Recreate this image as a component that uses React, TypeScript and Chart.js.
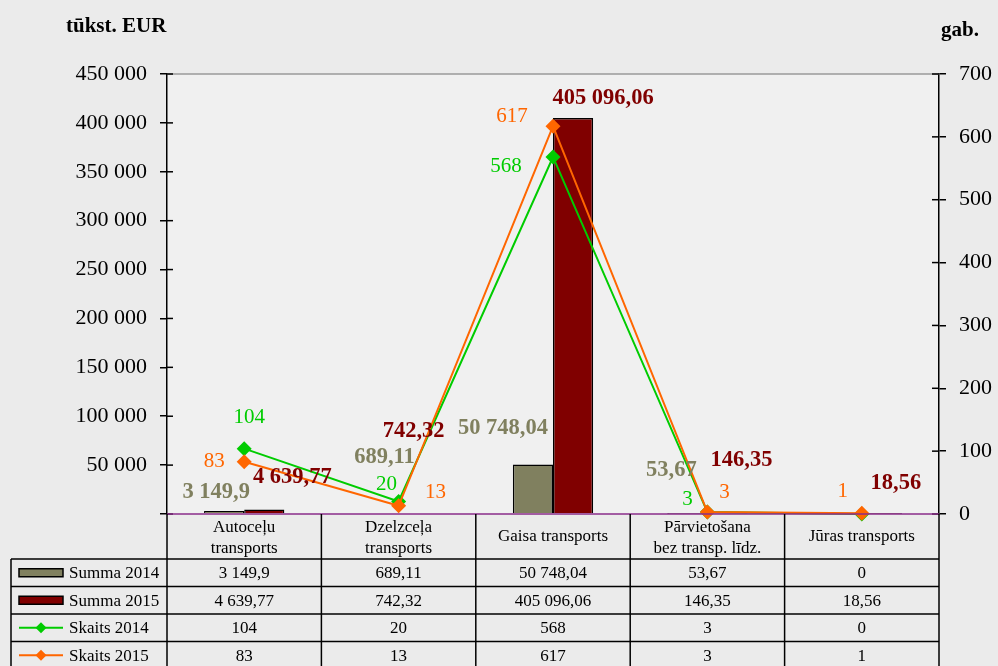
import React, { useEffect, useRef } from 'react';
import { Chart, registerables } from 'chart.js';

Chart.register(...registerables);

// ---------- data ----------
const categories: string[][] = [
  ['Autoceļu', 'transports'],
  ['Dzelzceļa', 'transports'],
  ['Gaisa transports'],
  ['Pārvietošana', 'bez transp. līdz.'],
  ['Jūras transports'],
];
const summa2014 = [3149.9, 689.11, 50748.04, 53.67, 0];
const summa2015 = [4639.77, 742.32, 405096.06, 146.35, 18.56];
const skaits2014 = [104, 20, 568, 3, 0];
const skaits2015 = [83, 13, 617, 3, 1];
const seriesNames = ['Summa 2014', 'Summa 2015', 'Skaits 2014', 'Skaits 2015'];
const leftAxis = { min: 0, max: 450000, step: 50000 };
const rightAxis = { min: 0, max: 700, step: 100 };
const leftTitle = 'tūkst. EUR';
const rightTitle = 'gab.';

// ---------- styles / layout ----------
const FONT = "'Liberation Serif', 'Times New Roman', serif";
const COLORS = ['#80805f', '#800000', '#00cc00', '#ff6600'];
// hand-placed label nudges (px), like the original chart
const LABEL_NUDGE: (number[] | null)[][] = [
  [[-8, -19], [6, -56], [-30, -36], [-16, -44], null],
  [[28, -32], [-5, -82], [30, -20], [14, -54], [14, -31]],
  [[5, -31], [-12, -17], [-47, 10], [-20, -13], null],
  [[-30, 0], [37, -13], [-41, -10], [17, -20], [-19, -22]],
];

function fmt(v: number): string {
  const s = String(v);
  const [i, d] = s.split('.');
  const g = i.replace(/\B(?=(\d{3})+(?!\d))/g, ' ');
  return d ? g + ',' + d : g;
}

const bgPlugin = {
  id: 'bgPlugin',
  beforeDraw(chart: any) {
    const { ctx, chartArea: ca, width, height } = chart;
    ctx.save();
    ctx.fillStyle = '#ebebeb';
    ctx.fillRect(0, 0, width, height);
    ctx.fillStyle = '#f0f0f0';
    ctx.fillRect(ca.left, ca.top, ca.right - ca.left, ca.bottom - ca.top);
    ctx.restore();
  },
  beforeDatasetsDraw(chart: any) {
    const { ctx, chartArea: ca, scales } = chart;
    ctx.save();
    ctx.strokeStyle = '#9a9a9a';
    ctx.lineWidth = 1.5;
    ctx.beginPath();
    ctx.moveTo(ca.left, ca.top);
    ctx.lineTo(ca.right, ca.top);
    ctx.stroke();
    ctx.strokeStyle = '#000';
    ctx.lineWidth = 1.5;
    scales.y.ticks.forEach((t: any) => {
      const yy = scales.y.getPixelForValue(t.value);
      ctx.beginPath();
      ctx.moveTo(ca.left, yy);
      ctx.lineTo(ca.left + 6, yy);
      ctx.stroke();
    });
    scales.y1.ticks.forEach((t: any) => {
      const yy = scales.y1.getPixelForValue(t.value);
      ctx.beginPath();
      ctx.moveTo(ca.right - 7, yy);
      ctx.lineTo(ca.right, yy);
      ctx.stroke();
    });
    ctx.restore();
  },
  afterDatasetsDraw(chart: any) {
    const { ctx, chartArea: ca } = chart;
    ctx.save();
    ctx.strokeStyle = '#8a2c8a';
    ctx.lineWidth = 1.5;
    ctx.beginPath();
    ctx.moveTo(ca.left, ca.bottom);
    ctx.lineTo(ca.right, ca.bottom);
    ctx.stroke();
    ctx.restore();
  },
};

const labelPlugin = {
  id: 'labelPlugin',
  afterDraw(chart: any) {
    const { ctx } = chart;
    ctx.save();
    ctx.textAlign = 'center';
    ctx.textBaseline = 'middle';
    chart.data.datasets.forEach((ds: any, di: number) => {
      const meta = chart.getDatasetMeta(di);
      const bold = ds.type === 'bar';
      ctx.font = (bold ? 'bold 22.5px ' : '21px ') + FONT;
      ctx.fillStyle = COLORS[di];
      meta.data.forEach((el: any, i: number) => {
        const nudge = LABEL_NUDGE[di][i];
        if (!nudge) return;
        ctx.fillText(fmt(ds.data[i]), el.x + nudge[0], el.y + nudge[1]);
      });
    });
    ctx.restore();
  },
};

const tablePlugin = {
  id: 'tablePlugin',
  afterDraw(chart: any) {
    const { ctx, chartArea: ca, scales } = chart;
    const x = scales.x;
    const n = categories.length;
    const cw = (ca.right - ca.left) / n;
    const top = ca.bottom;
    const headerH = 45;
    const rowH = 27.5;
    const rows = chart.data.datasets.length;
    const bottom = top + headerH + rows * rowH;
    const legendLeft = 11;
    const line = (x1: number, y1: number, x2: number, y2: number) => {
      ctx.beginPath();
      ctx.moveTo(x1, y1);
      ctx.lineTo(x2, y2);
      ctx.stroke();
    };
    ctx.save();
    ctx.strokeStyle = '#000';
    ctx.lineWidth = 1.5;
    for (let i = 0; i < n; i++) {
      const cx = x.getPixelForValue(i);
      line(cx - cw / 2, top, cx - cw / 2, bottom);
      if (i === n - 1) line(cx + cw / 2, top, cx + cw / 2, bottom);
    }
    line(legendLeft, top + headerH, legendLeft, bottom);
    for (let r = 0; r <= rows; r++) {
      const yy = top + headerH + r * rowH;
      line(legendLeft, yy, ca.right, yy);
    }
    ctx.fillStyle = '#000';
    ctx.font = '17px ' + FONT;
    ctx.textAlign = 'center';
    ctx.textBaseline = 'middle';
    categories.forEach((lab, i) => {
      const cx = x.getPixelForValue(i);
      if (lab.length === 1) {
        ctx.fillText(lab[0], cx, top + 23);
      } else {
        ctx.fillText(lab[0], cx, top + 14);
        ctx.fillText(lab[1], cx, top + 35);
      }
    });
    chart.data.datasets.forEach((ds: any, r: number) => {
      const cy = top + headerH + rowH * (r + 0.5);
      ds.data.forEach((v: number, i: number) => {
        ctx.fillStyle = '#000';
        ctx.textAlign = 'center';
        ctx.fillText(fmt(v), x.getPixelForValue(i), cy + 1);
      });
      const kx1 = 19, kx2 = 63;
      if (ds.type === 'bar') {
        ctx.fillStyle = COLORS[r];
        ctx.fillRect(kx1, cy - 4, kx2 - kx1, 8);
        ctx.strokeStyle = '#000';
        ctx.lineWidth = 1.5;
        ctx.strokeRect(kx1, cy - 4, kx2 - kx1, 8);
      } else {
        ctx.strokeStyle = COLORS[r];
        ctx.lineWidth = 2;
        line(kx1, cy, kx2, cy);
        ctx.fillStyle = COLORS[r];
        const mx = (kx1 + kx2) / 2;
        ctx.beginPath();
        ctx.moveTo(mx, cy - 5.5);
        ctx.lineTo(mx + 5.5, cy);
        ctx.lineTo(mx, cy + 5.5);
        ctx.lineTo(mx - 5.5, cy);
        ctx.closePath();
        ctx.fill();
      }
      ctx.fillStyle = '#000';
      ctx.textAlign = 'left';
      ctx.fillText(ds.label, 69, cy + 1);
    });
    ctx.font = 'bold 21px ' + FONT;
    ctx.textBaseline = 'alphabetic';
    ctx.textAlign = 'left';
    ctx.fillText(leftTitle, 66, 32);
    ctx.fillText(rightTitle, 941, 36);
    ctx.restore();
  },
};

export default function App() {
  const ref = useRef<HTMLCanvasElement | null>(null);
  useEffect(() => {
    document.body.style.margin = '0';
    if (!ref.current) return;
    const chart = new Chart(ref.current, {
      type: 'bar',
      data: {
        labels: categories as any,
        datasets: [
          {
            type: 'bar',
            label: seriesNames[0],
            data: summa2014,
            backgroundColor: COLORS[0],
            borderColor: '#000',
            borderWidth: 1.5,
            yAxisID: 'y',
            order: 2,
            barPercentage: 1,
            categoryPercentage: 0.52,
          },
          {
            type: 'bar',
            label: seriesNames[1],
            data: summa2015,
            backgroundColor: COLORS[1],
            borderColor: '#000',
            borderWidth: 1.5,
            yAxisID: 'y',
            order: 3,
            barPercentage: 1,
            categoryPercentage: 0.52,
          },
          {
            type: 'line',
            label: seriesNames[2],
            data: skaits2014,
            borderColor: COLORS[2],
            backgroundColor: COLORS[2],
            borderWidth: 2,
            pointStyle: 'rectRot',
            pointRadius: 7.5,
            pointBorderWidth: 0,
            tension: 0,
            yAxisID: 'y1',
            order: 1,
            clip: false,
          } as any,
          {
            type: 'line',
            label: seriesNames[3],
            data: skaits2015,
            borderColor: COLORS[3],
            backgroundColor: COLORS[3],
            borderWidth: 2,
            pointStyle: 'rectRot',
            pointRadius: 7.5,
            pointBorderWidth: 0,
            tension: 0,
            yAxisID: 'y1',
            order: 0,
            clip: false,
          } as any,
        ],
      },
      options: {
        responsive: false,
        animation: false,
        devicePixelRatio: 1,
        layout: { padding: { top: 74, bottom: 152, left: 0, right: 0 } },
        plugins: {
          legend: { display: false },
          tooltip: { enabled: false },
          title: { display: false },
        },
        scales: {
          x: { display: false, offset: true },
          y: {
            position: 'left',
            min: leftAxis.min,
            max: leftAxis.max,
            ticks: {
              stepSize: leftAxis.step,
              padding: 13,
              color: '#000',
              font: { family: FONT, size: 22 },
              callback: (v: any) => (Number(v) === 0 ? '' : fmt(Number(v))),
            },
            grid: { drawOnChartArea: false, drawTicks: true, tickLength: 7, color: '#000', lineWidth: 1.5 },
            border: { display: true, color: '#000', width: 1.5 },
            afterFit: (s: any) => { s.width = 167; },
          },
          y1: {
            position: 'right',
            min: rightAxis.min,
            max: rightAxis.max,
            ticks: {
              stepSize: rightAxis.step,
              padding: 13,
              color: '#000',
              font: { family: FONT, size: 22 },
              callback: (v: any) => fmt(Number(v)),
            },
            grid: { drawOnChartArea: false, drawTicks: true, tickLength: 7, color: '#000', lineWidth: 1.5 },
            border: { display: true, color: '#000', width: 1.5 },
            afterFit: (s: any) => { s.width = 59; },
          },
        },
      } as any,
      plugins: [bgPlugin, labelPlugin, tablePlugin],
    });
    return () => chart.destroy();
  }, []);
  return (
    <div style={{ width: 998, height: 666, overflow: 'hidden' }}>
      <canvas ref={ref} width={998} height={666} style={{ display: 'block' }} />
    </div>
  );
}
